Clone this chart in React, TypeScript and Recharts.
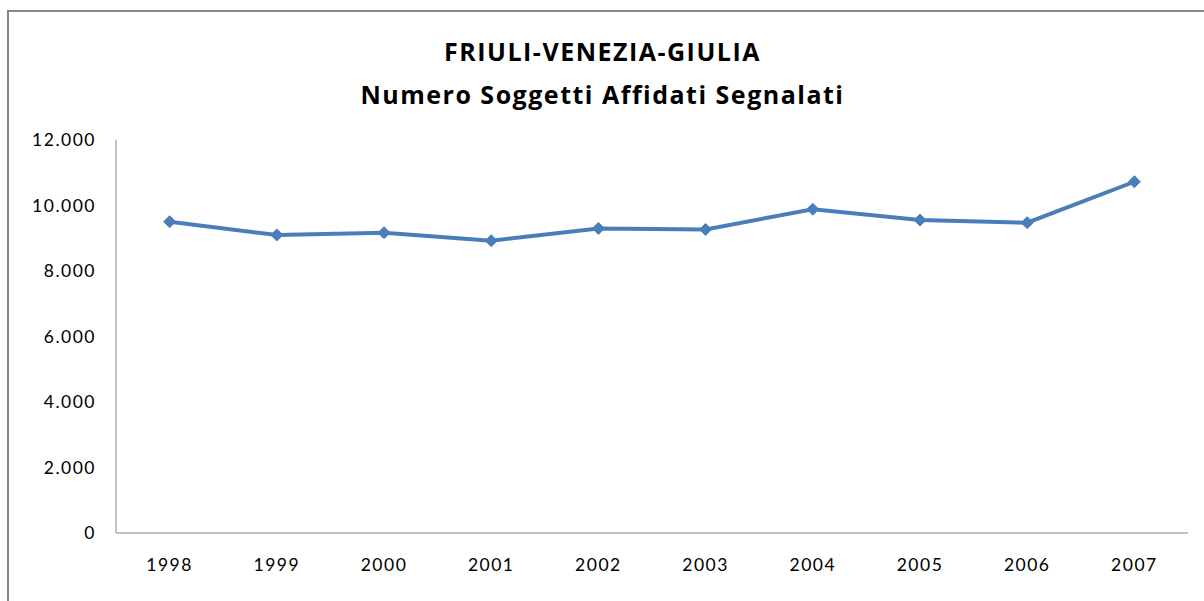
import { LineChart, Line, XAxis, YAxis } from "recharts";

const years = ["1998", "1999", "2000", "2001", "2002", "2003", "2004", "2005", "2006", "2007"];
const soggetti = [9505, 9100, 9170, 8925, 9300, 9270, 9885, 9555, 9475, 10725];
const yTicks = [0, 2000, 4000, 6000, 8000, 10000, 12000];

const titleLines = ["FRIULI-VENEZIA-GIULIA", "Numero Soggetti Affidati Segnalati"];

const data = years.map((y, i) => ({ anno: y, valore: soggetti[i] }));

const lineColor = "#4a7ebb";
const axisColor = "#868686";

// numeri con il punto come separatore delle migliaia
const formatIt = (v: number) => String(v).replace(/\B(?=(\d{3})+(?!\d))/g, ".");

const tickStyle = { fill: "#000", fontSize: 17.5, fontFamily: "Lato, sans-serif", letterSpacing: 1.5 };

function Diamond(props: any) {
  const { cx, cy } = props;
  if (cx == null || cy == null) return null;
  const r = 6;
  return (
    <polygon
      points={`${cx},${cy - r} ${cx + r},${cy} ${cx},${cy + r} ${cx - r},${cy}`}
      fill={lineColor}
      stroke={lineColor}
      strokeWidth={1}
    />
  );
}

export default function App() {
  return (
    <div style={{ position: "absolute", left: 0, top: 0, width: 1204, height: 601, background: "#fff", overflow: "hidden" }}>
      {/* cornice del grafico */}
      <div
        style={{
          position: "absolute",
          left: 7,
          top: 10,
          width: 1300,
          height: 700,
          borderLeft: `2px solid ${axisColor}`,
          borderTop: `2px solid ${axisColor}`,
        }}
      />
      <div
        style={{
          position: "absolute",
          left: 0,
          top: 30,
          width: 1205,
          textAlign: "center",
          fontFamily: "'Open Sans', sans-serif",
          fontWeight: 700,
          fontSize: 25,
          letterSpacing: 1.5,
          lineHeight: "43px",
          color: "#000",
        }}
      >
        {titleLines.map((t) => (
          <div key={t}>{t}</div>
        ))}
      </div>
      <div style={{ position: "absolute", left: 0, top: 0 }}>
        <LineChart width={1204} height={601} data={data} margin={{ top: 140, right: 16, bottom: 0, left: 0 }}>
          <XAxis
            dataKey="anno"
            height={68}
            padding={{ left: 53.6, right: 53.6 }}
            axisLine={{ stroke: axisColor, strokeWidth: 1 }}
            tickLine={false}
            tickSize={0}
            tickMargin={26}
            interval={0}
            tick={tickStyle}
          />
          <YAxis
            width={116}
            domain={[0, 12000]}
            ticks={yTicks}
            tickFormatter={formatIt}
            axisLine={{ stroke: axisColor, strokeWidth: 1 }}
            tickLine={false}
            tickSize={0}
            tickMargin={20}
            tick={tickStyle}
          />
          <Line
            type="linear"
            dataKey="valore"
            stroke={lineColor}
            strokeWidth={4}
            dot={<Diamond />}
            activeDot={false}
            isAnimationActive={false}
          />
        </LineChart>
      </div>
    </div>
  );
}
